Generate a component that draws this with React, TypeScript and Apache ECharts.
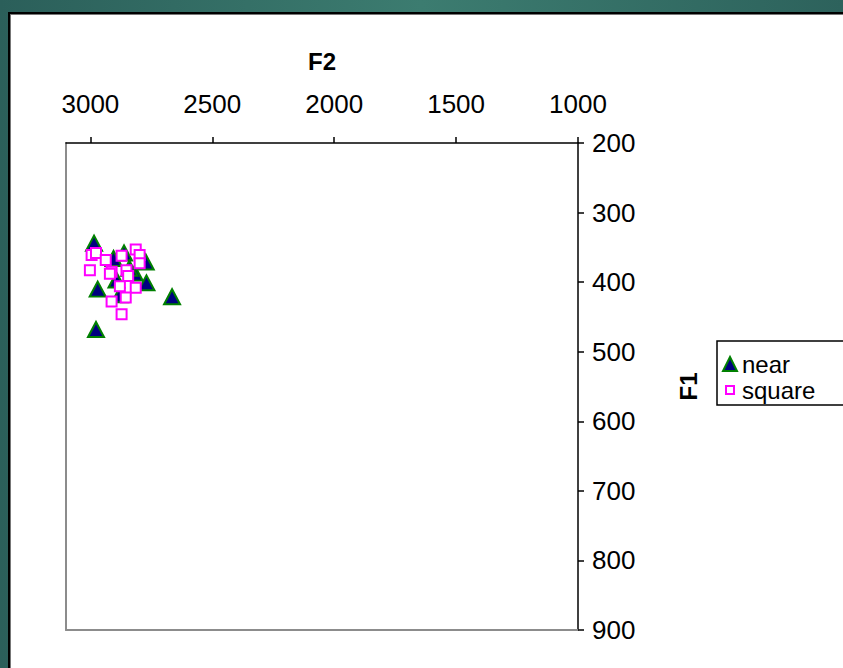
import React, { useEffect, useRef } from "react";
import * as echarts from "echarts";

// ---- data ----
const seriesNames = ["near", "square"];
const nearF2 = [2985, 2862, 2905, 2773, 2970, 2770, 2665, 2977, 2818, 2893, 2879, 2840];
const nearF1 = [344, 358, 366, 371, 410, 401, 421, 468, 387, 397, 418, 380];
const squareF2 = [2995, 2977, 2937, 2872, 2814, 2798, 2798, 3002, 2913, 2920, 2852, 2845, 2879, 2814, 2855, 2913, 2872];
const squareF1 = [361, 358, 368, 362, 353, 361, 373, 383, 385, 388, 383, 391, 406, 408, 422, 428, 446];
const f2Ticks = [3000, 2500, 2000, 1500, 1000];
const f1Ticks = [200, 300, 400, 500, 600, 700, 800, 900];

const FONT = "'Liberation Sans', Arial, sans-serif";

export default function App() {
  const ref = useRef<HTMLDivElement>(null);

  useEffect(() => {
    if (!ref.current) return;
    const chart = echarts.init(ref.current, undefined, { renderer: "svg" });
    const nearData = nearF2.map((x, i) => [x, nearF1[i]]);
    const squareData = squareF2.map((x, i) => [x, squareF1[i]]);
    const f2Min = 1000;
    const f2Max = 3100;
    const f1Min = f1Ticks[0];
    const f1Max = f1Ticks[f1Ticks.length - 1];
    const plain = (v: number) => String(v);

    chart.setOption({
      animation: false,
      backgroundColor: "transparent",
      textStyle: { fontFamily: FONT },
      grid: { left: 66, right: 265, top: 143, bottom: 38, containLabel: false },
      xAxis: [
        {
          type: "value",
          position: "top",
          inverse: true,
          min: f2Min,
          max: f2Max,
          interval: 500,
          name: "F2",
          nameLocation: "middle",
          nameGap: 70,
          nameTextStyle: { fontSize: 24, fontWeight: "bold", color: "#000", fontFamily: FONT },
          axisLine: { show: true, onZero: false, lineStyle: { color: "#000", width: 1.5 } },
          axisTick: { show: true, length: 6, lineStyle: { color: "#000", width: 1.5 }, customValues: f2Ticks },
          axisLabel: { fontSize: 26, color: "#000", margin: 26, fontFamily: FONT, customValues: f2Ticks, formatter: plain },
          splitLine: { show: false },
        },
        {
          type: "value",
          position: "bottom",
          inverse: true,
          min: f2Min,
          max: f2Max,
          axisLine: { show: true, onZero: false, lineStyle: { color: "#8c8c8c", width: 2 } },
          axisTick: { show: false },
          axisLabel: { show: false },
          splitLine: { show: false },
        },
      ],
      yAxis: [
        {
          type: "value",
          position: "right",
          inverse: true,
          min: f1Min,
          max: f1Max,
          interval: 100,
          name: "F1",
          nameLocation: "middle",
          nameGap: 98,
          nameTextStyle: { fontSize: 24, fontWeight: "bold", color: "#000", fontFamily: FONT },
          axisLine: { show: true, onZero: false, lineStyle: { color: "#000", width: 1.5 } },
          axisTick: { show: true, length: 6, lineStyle: { color: "#000", width: 1.5 } },
          axisLabel: { fontSize: 26, color: "#000", margin: 14, fontFamily: FONT, formatter: plain },
          splitLine: { show: false },
        },
        {
          type: "value",
          position: "left",
          inverse: true,
          min: f1Min,
          max: f1Max,
          axisLine: { show: true, onZero: false, lineStyle: { color: "#8c8c8c", width: 2 } },
          axisTick: { show: false },
          axisLabel: { show: false },
          splitLine: { show: false },
        },
      ],
      legend: {
        show: true,
        orient: "vertical",
        left: 722,
        top: 351,
        padding: 0,
        itemGap: 0,
        itemWidth: 14,
        itemHeight: 14,
        textStyle: { fontSize: 24, lineHeight: 26, color: "#000", fontFamily: FONT },
        data: [
          { name: seriesNames[0], icon: "triangle" },
          { name: seriesNames[1], icon: "path://M0,0M14,14M3,3L11,3L11,11L3,11Z" },
        ],
        selectedMode: false,
      },
      graphic: [
        {
          type: "rect",
          shape: { x: 717, y: 341, width: 200, height: 64 },
          style: { fill: "none", stroke: "#000", lineWidth: 1.5 },
          silent: true,
        },
      ],
      series: [
        {
          name: seriesNames[0],
          type: "scatter",
          xAxisIndex: 0,
          yAxisIndex: 0,
          symbol: "triangle",
          symbolSize: [16, 15],
          itemStyle: { color: "#000080", borderColor: "#008000", borderWidth: 2, opacity: 1 },
          data: nearData,
        },
        {
          name: seriesNames[1],
          type: "scatter",
          xAxisIndex: 0,
          yAxisIndex: 0,
          symbol: "rect",
          symbolSize: 10,
          itemStyle: { color: "#ffffff", borderColor: "#ff00ff", borderWidth: 2, opacity: 1 },
          data: squareData,
        },
      ],
    });
    return () => chart.dispose();
  }, []);

  return (
    <div
      style={{
        position: "fixed",
        left: 0,
        top: 0,
        width: 843,
        height: 668,
        overflow: "hidden",
        background: "linear-gradient(90deg, #2b5f5a 0%, #3c7c70 50%, #2d625c 100%)",
      }}
    >
      <div
        style={{
          position: "absolute",
          left: 8,
          top: 12,
          width: 900,
          height: 720,
          background: "#fff",
          borderLeft: "2px solid #000",
          borderTop: "2px solid #000",
          boxShadow: "inset 1px 1px 0 #777",
        }}
      />
      <div ref={ref} style={{ position: "absolute", left: 0, top: 0, width: 843, height: 668 }} />
    </div>
  );
}
